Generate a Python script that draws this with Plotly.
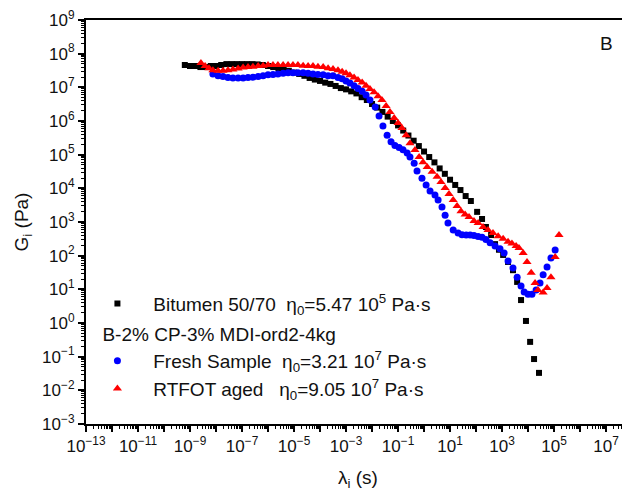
import plotly.graph_objects as go

# ---------------- data ----------------
lam_bitumen = [6.31e-10, 1e-9, 1.58e-9, 2.51e-9, 3.98e-9, 6.31e-9, 1e-8, 1.58e-8, 2.51e-8, 3.98e-8,
               6.31e-8, 1e-7, 1.58e-7, 2.51e-7, 3.98e-7, 6.31e-7, 1e-6, 1.58e-6, 2.51e-6, 3.98e-6,
               6.31e-6, 1e-5, 1.58e-5, 2.51e-5, 3.98e-5, 6.31e-5, 1e-4, 1.58e-4, 2.51e-4, 3.98e-4,
               6.31e-4, 1e-3, 1.58e-3, 2.51e-3, 3.98e-3, 6.31e-3, 1e-2, 1.58e-2, 2.51e-2, 3.98e-2,
               6.31e-2, 0.1, 0.158, 0.251, 0.398, 0.631, 1.0, 1.58, 2.51, 3.98,
               6.31, 10.0, 15.8, 25.1, 39.8, 63.1, 110, 170, 240, 380,
               537, 760, 1100, 1700, 2630, 3800, 5370, 8300, 1.2e4, 1.7e4, 2.63e4]
G_bitumen = [4.6e7, 4.3e7, 4.3e7, 4.0e7, 4.0e7, 4.3e7, 4.3e7, 4.6e7, 4.9e7, 4.9e7,
             4.9e7, 4.9e7, 4.9e7, 4.9e7, 4.8e7, 4.6e7, 4.3e7, 4.0e7, 3.7e7, 3.4e7,
             3.1e7, 2.75e7, 2.5e7, 2.2e7, 1.9e7, 1.7e7, 1.55e7, 1.38e7, 1.26e7, 1.1e7,
             9.5e6, 8.7e6, 7.6e6, 6.6e6, 5.1e6, 4.2e6, 3.2e6, 2.5e6, 1.86e6, 1.35e6,
             1.0e6, 7.4e5, 5.2e5, 3.7e5, 2.6e5, 1.8e5, 1.24e5, 8.5e4, 5.9e4, 3.9e4,
             2.7e4, 1.8e4, 1.26e4, 8.9e3, 5.9e3, 4.2e3, 2.0e3, 1.23e3, 7.1e2, 4.1e2,
             2.2e2, 1.5e2, 1.05e2, 65, 37, 16.6, 4.8, 1.15, 0.275, 0.085, 0.033]

lam_fresh = [7.59e-9, 1.20e-8, 1.86e-8, 2.88e-8, 4.47e-8, 7.08e-8, 1.10e-7, 1.70e-7, 2.63e-7, 4.17e-7,
             6.46e-7, 1e-6, 1.55e-6, 2.40e-6, 3.80e-6, 5.89e-6, 9.12e-6, 1.41e-5, 2.24e-5, 3.47e-5,
             5.37e-5, 8.32e-5, 1.32e-4, 2.04e-4, 3.16e-4, 4.90e-4, 7.08e-4, 1e-3, 1.41e-3, 2.04e-3,
             2.88e-3, 4.17e-3, 5.89e-3, 8.32e-3, 1.32e-2, 1.86e-2, 2.63e-2, 3.80e-2, 5.37e-2, 7.59e-2,
             0.110, 0.155, 0.224, 0.288, 0.417, 0.537, 0.832, 1.20, 1.70, 2.63,
             3.47, 4.90, 6.46, 8.32, 13.2, 20.4, 28.8, 41.7, 58.9, 83.2,
             120, 170, 240, 347, 537, 832, 1200, 1700, 2630, 3800,
             5370, 7080, 1e4, 1.41e4, 2.04e4, 2.88e4, 3.80e4, 5.37e4, 7.59e4, 1.10e5]
G_fresh = [2.5e7, 2.2e7, 2.1e7, 1.95e7, 1.9e7, 1.9e7, 1.9e7, 1.95e7, 2.0e7, 2.1e7,
           2.2e7, 2.35e7, 2.4e7, 2.5e7, 2.6e7, 2.7e7, 2.7e7, 2.7e7, 2.7e7, 2.6e7,
           2.5e7, 2.4e7, 2.35e7, 2.2e7, 2.2e7, 1.95e7, 1.8e7, 1.55e7, 1.35e7, 1.12e7,
           9.3e6, 7.6e6, 5.9e6, 4.2e6, 2.6e6, 1.41e6, 7.1e5, 3.8e5, 2.4e5, 1.86e5,
           1.62e5, 1.41e5, 1.12e5, 8.5e4, 5.6e4, 3.3e4, 2.0e4, 1.26e4, 8.3e3, 6.3e3,
           4.5e3, 2.8e3, 1.6e3, 9.3e2, 5.8e2, 4.7e2, 4.2e2, 4.1e2, 4.1e2, 4.0e2,
           3.7e2, 3.5e2, 3.0e2, 2.4e2, 1.95e2, 1.6e2, 1.2e2, 69, 43, 23,
           12.6, 8.3, 7.2, 7.2, 9.5, 15.5, 27, 46, 85, 148]

lam_rtfot = [2.63e-9, 3.80e-9, 5.37e-9, 7.59e-9, 1.20e-8, 1.86e-8, 2.88e-8, 4.47e-8, 7.08e-8, 1.10e-7,
             1.70e-7, 2.63e-7, 4.17e-7, 6.46e-7, 1e-6, 1.55e-6, 2.40e-6, 3.80e-6, 5.89e-6, 9.12e-6,
             1.41e-5, 2.24e-5, 3.47e-5, 5.37e-5, 8.32e-5, 1.32e-4, 2.04e-4, 3.16e-4, 4.90e-4, 7.08e-4,
             1e-3, 1.41e-3, 2.04e-3, 2.88e-3, 4.17e-3, 5.89e-3, 8.32e-3, 1.20e-2, 1.70e-2, 2.40e-2,
             3.47e-2, 4.90e-2, 7.08e-2, 0.1, 0.141, 0.204, 0.288, 0.447, 0.646, 0.912,
             1.32, 2.04, 3.16, 4.47, 6.46, 9.12, 13.2, 18.6, 26.3, 38.0,
             53.7, 83.2, 120, 186, 288, 447, 708, 1100, 1700, 2400,
             3470, 4470, 6460, 9120, 1.32e4, 1.86e4, 2.40e4, 3.80e4, 5.37e4, 7.59e4,
             1.10e5, 1.55e5]
G_rtfot = [5.3e7, 4.3e7, 3.7e7, 3.2e7, 3.1e7, 3.1e7, 3.2e7, 3.4e7, 3.6e7, 3.9e7,
           4.0e7, 4.1e7, 4.3e7, 4.4e7, 4.6e7, 4.6e7, 4.6e7, 4.6e7, 4.6e7, 4.6e7,
           4.6e7, 4.4e7, 4.3e7, 4.3e7, 4.1e7, 4.0e7, 3.7e7, 3.5e7, 3.2e7, 2.9e7,
           2.6e7, 2.3e7, 1.95e7, 1.66e7, 1.38e7, 1.12e7, 8.9e6, 7.1e6, 5.4e6, 4.2e6,
           2.8e6, 1.86e6, 1.23e6, 8.7e5, 6.2e5, 3.8e5, 2.2e5, 1.38e5, 8.5e4, 6.0e4,
           4.3e4, 3.1e4, 2.2e4, 1.55e4, 1.02e4, 6.8e3, 4.5e3, 3.0e3, 2.1e3, 1.66e3,
           1.41e3, 1.07e3, 9.3e2, 7.1e2, 5.8e2, 4.7e2, 3.8e2, 3.2e2, 2.6e2, 2.3e2,
           1.95e2, 1.7e2, 1.2e2, 65, 31, 15.5, 9.5, 8.1, 11, 23,
           91, 410]

y_exponents = list(range(-3, 10))
x_exponents = list(range(-13, 8))

series_names = [
    "\u00a0\u00a0\u00a0Bitumen 50/70\u00a0\u00a0\u03b7<sub>0</sub>=5.47 10<sup>5</sup> Pa\u00b7s",
    "\u00a0\u00a0\u00a0Fresh Sample\u00a0\u00a0\u03b7<sub>0</sub>=3.21 10<sup>7</sup> Pa\u00b7s",
    "\u00a0\u00a0\u00a0RTFOT aged\u00a0\u00a0\u00a0\u03b7<sub>0</sub>=9.05 10<sup>7</sup> Pa\u00b7s",
]
group_title = "B-2% CP-3% MDI-ord2-4kg"

# ---------------- figure ----------------
FONT = "Arial, 'Liberation Sans', sans-serif"
fig = go.Figure()
fig.add_trace(go.Scatter(x=lam_bitumen, y=G_bitumen, mode="markers", name=series_names[0],
                         legendgroup="a",
                         marker=dict(symbol="square", size=6, color="#000000")))
fig.add_trace(go.Scatter(x=lam_fresh, y=G_fresh, mode="markers", name=series_names[1],
                         legendgroup="b", legendgrouptitle=dict(text=group_title, font=dict(size=19)),
                         marker=dict(symbol="circle", size=7, color="#0000FF")))
fig.add_trace(go.Scatter(x=lam_rtfot, y=G_rtfot, mode="markers", name=series_names[2],
                         legendgroup="b",
                         marker=dict(symbol="triangle-up", size=8, color="#FF0000")))

def sup(e):
    return "10<sup>" + ("\u2212" if e < 0 else "") + str(abs(e)) + "</sup>"

x_minor = [m * 10.0 ** e for e in range(-13, 8) for m in range(2, 10)]
y_minor = [m * 10.0 ** e for e in range(-3, 9) for m in range(2, 10)]

fig.update_xaxes(type="log", range=[-13, 7.92], automargin=False, ticklabeloverflow="allow",
                 tickmode="array", tickvals=[10.0 ** e for e in x_exponents],
                 ticktext=[sup(e) if (e % 2 != 0) else "" for e in x_exponents],
                 ticks="outside", ticklen=6, tickwidth=1.5, tickcolor="black",
                 showline=True, linecolor="black", linewidth=2, mirror=True,
                 showgrid=False, zeroline=False,
                 minor=dict(tickvals=x_minor, ticks="outside", ticklen=3, tickwidth=1, tickcolor="black", showgrid=False),
                 tickfont=dict(family=FONT, size=17, color="#111"),
                 title=dict(text="\u03bb<sub>i</sub> (s)", font=dict(family=FONT, size=19, color="#111"), standoff=15))
fig.update_yaxes(type="log", range=[-3, 9], automargin=False, ticklabeloverflow="allow",
                 tickmode="array", tickvals=[10.0 ** e for e in y_exponents],
                 ticktext=[sup(e) for e in y_exponents],
                 ticks="outside", ticklen=6, tickwidth=1.5, tickcolor="black",
                 showline=True, linecolor="black", linewidth=2, mirror=False,
                 showgrid=False, zeroline=False,
                 minor=dict(tickvals=y_minor, ticks="outside", ticklen=3, tickwidth=1, tickcolor="black", showgrid=False),
                 tickfont=dict(family=FONT, size=17, color="#111"),
                 title=dict(text="G<sub>i</sub> (Pa)", font=dict(family=FONT, size=19, color="#111"), standoff=8))

fig.add_annotation(text="B", xref="paper", yref="paper", x=0.956, y=0.943,
                   xanchor="center", yanchor="middle",
                   showarrow=False, font=dict(family=FONT, size=19, color="#111"))

# page body has an 8px margin in the browser, so offset the figure margins
fig.update_layout(
    width=630, height=496,
    margin=dict(l=78, r=8, t=12, b=80, autoexpand=False),
    paper_bgcolor="white", plot_bgcolor="white",
    font=dict(family=FONT, color="#111"),
    legend=dict(x=0.021, y=0.345, xanchor="left", yanchor="top",
                traceorder="grouped", tracegroupgap=2,
                font=dict(family=FONT, size=19, color="#111"),
                bgcolor="rgba(0,0,0,0)", borderwidth=0),
    showlegend=True,
)

fig.write_html("out.html")
